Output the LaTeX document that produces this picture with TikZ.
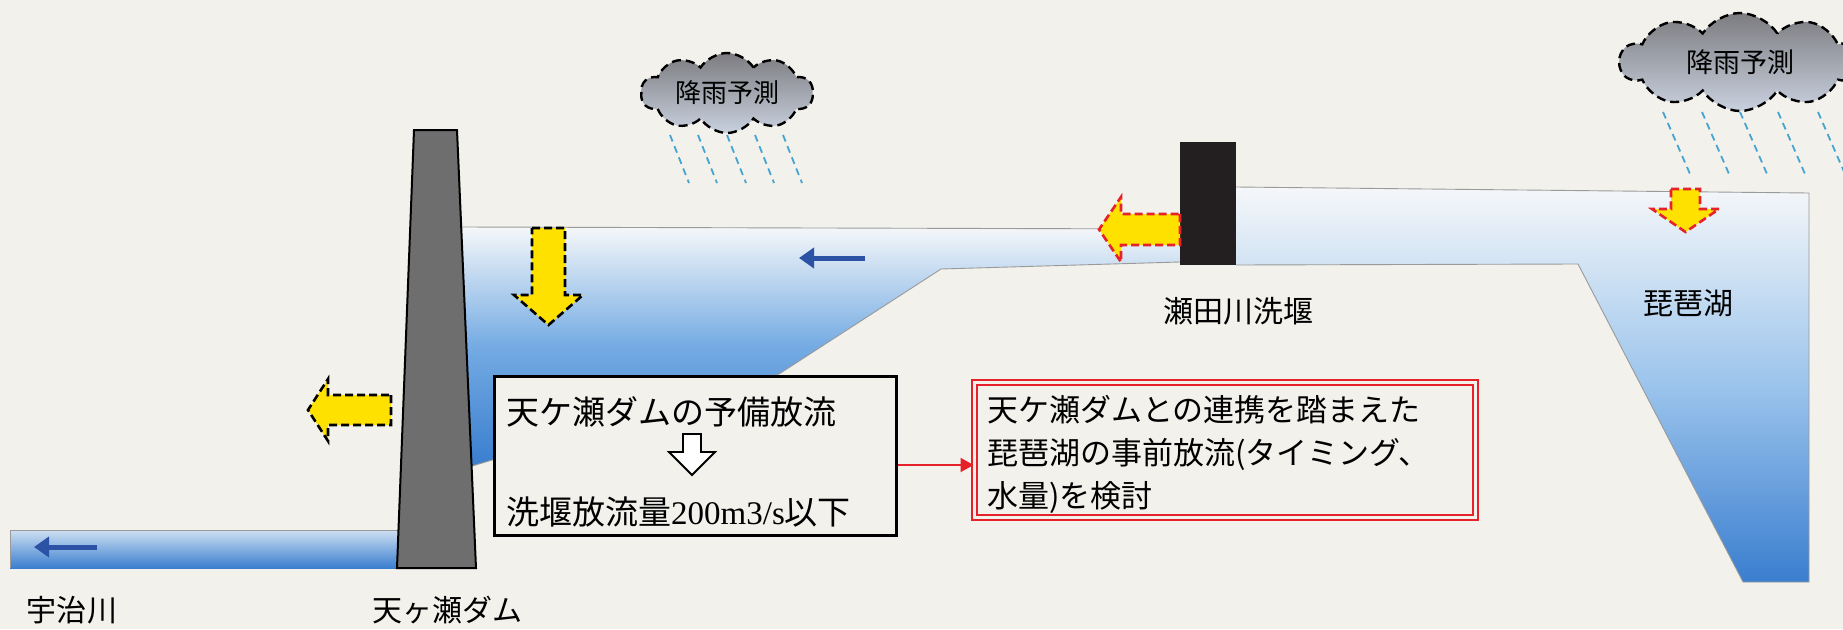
\documentclass[tikz,border=0pt]{standalone}
\usepackage{fontspec}
\setmainfont{Liberation Serif}
\newfontfamily\jp{Noto Sans CJK JP}
\usetikzlibrary{shapes.symbols,arrows.meta}

\definecolor{paper}{HTML}{F2F1EC}
\definecolor{waterlight}{HTML}{F5F7F9}
\definecolor{watermid}{HTML}{74ABE3}
\definecolor{lakemid}{HTML}{9CC4EC}
\definecolor{waterdeep}{HTML}{3A7ECF}
\definecolor{damgray}{HTML}{6E6E6E}
\definecolor{weirblack}{HTML}{231F20}
\definecolor{flowyellow}{HTML}{FFE100}
\definecolor{alertred}{HTML}{E52229}
\definecolor{flowblue}{HTML}{2C52A6}
\definecolor{rainblue}{HTML}{45A5D0}
\definecolor{cloudtop}{HTML}{7C7C80}
\definecolor{cloudbottom}{HTML}{C9D1DF}
\definecolor{shoreline}{HTML}{9A9A9A}

\begin{document}
\begin{tikzpicture}[x=1pt,y=-1pt,
  shore/.style={draw=shoreline, line width=0.9pt},
  water/.style={top color=waterlight, bottom color=waterdeep, middle color=watermid},
  lakewater/.style={top color=waterlight, bottom color=waterdeep, middle color=lakemid},
  bigarrow/.style={fill=flowyellow, line width=2.6pt, dash pattern=on 8pt off 4pt, line join=miter},
  blackedge/.style={bigarrow, draw=black},
  rededge/.style={bigarrow, draw=alertred},
  placename/.style={font=\jp\fontsize{30pt}{30pt}\selectfont, inner sep=0pt},
  boxtext/.style={font=\jp\fontsize{33pt}{33pt}\selectfont, inner sep=0pt, anchor=west},
  raindrop/.style={draw=rainblue, line width=1.8pt, dash pattern=on 7pt off 5pt},
  raincloud/.style={cloud, cloud puffs=10, cloud puff arc=115, cloud ignores aspect,
    draw=black, line width=2.4pt, dash pattern=on 9pt off 5pt,
    top color=cloudtop, bottom color=cloudbottom, inner sep=0pt,
    font=\jp\fontsize{26pt}{26pt}\selectfont},
  flowarrow/.style={draw=flowblue, line width=5pt, -{Triangle[length=15pt,width=20pt]}},
]
% page and clipping frame
\fill[paper] (0,0) rectangle (1843,629);
\useasboundingbox (0,0) rectangle (1843,629);
\clip (0,0) rectangle (1843,629);

% reservoir and Seta river
\shade[water] (461,227) -- (1180,229) -- (1180,262) -- (941,269) -- (779,374) -- (600,428) -- (472,466) -- cycle;
\draw[shore] (461,227) -- (1180,229);
\draw[shore] (1180,262) -- (941,269) -- (779,374) -- (600,428) -- (472,466);

% Lake Biwa
\shade[lakewater] (1236,187) -- (1809,193) -- (1809,582) -- (1743,582) -- (1578,264) -- (1236,265) -- cycle;
\draw[shore] (1236,187) -- (1809,193) -- (1809,582) -- (1743,582) -- (1578,264) -- (1236,265);

% Uji river
\shade[top color=waterlight!70!watermid, bottom color=waterdeep] (10,530) rectangle (400,568);
\draw[shore] (400,530) -- (10,530) -- (10,568);

% Amagase dam and Seta weir
\draw[fill=damgray, line width=2pt] (414,130) -- (457,130) -- (476,568) -- (397,568) -- cycle;
\fill[weirblack] (1180,142) rectangle (1236,265);

% flow directions
\coordinate (ujiFrom) at (97,547);
\coordinate (ujiTo) at (34,547);
\coordinate (resFrom) at (865,258);
\coordinate (resTo) at (799,258);
\draw[flowarrow] (ujiFrom) -- (ujiTo);
\draw[flowarrow] (resFrom) -- (resTo);

% release arrows
\draw[blackedge] (532,228) -- (565,228) -- (565,295) -- (583,295) -- (548.5,325) -- (514,295) -- (532,295) -- cycle;
\draw[blackedge] (391,395) -- (391,425) -- (328,425) -- (328,441) -- (308,410) -- (328,379) -- (328,395) -- cycle;
\draw[rededge] (1180,214) -- (1180,245) -- (1121,245) -- (1121,262) -- (1099,229.5) -- (1121,197) -- (1121,214) -- cycle;
\draw[rededge] (1671,189) -- (1700,189) -- (1700,209) -- (1719,209) -- (1685.5,232) -- (1652,209) -- (1671,209) -- cycle;

% pre-release box
\node[draw=black, line width=3.5pt, fill=paper, minimum width=402pt, minimum height=159pt, inner sep=0pt] (plan) at (695.5,456) {};
\node[boxtext] (planA) at (506,412) {天ケ瀬ダムの予備放流};
\node[boxtext] (planB) at (506,512) {洗堰放流量{\rmfamily 200m3/s}以下};
\draw[fill=white, line width=1.8pt, line join=miter] (683,434) -- (701,434) -- (701,452) -- (715,452) -- (692,475) -- (669,452) -- (683,452) -- cycle;

% study box
\node[draw=alertred, double=paper, double distance=2.5pt, line width=2pt, fill=paper,
      minimum width=501pt, minimum height=135pt, inner sep=0pt] (review) at (1225,450) {};
\node[anchor=west, align=left, inner sep=0pt, font=\jp\fontsize{31pt}{43pt}\selectfont] (reviewText) at (987,454)
  {天ケ瀬ダムとの連携を踏まえた\\琵琶湖の事前放流(タイミング、\\水量)を検討};
\coordinate (linkY) at (0,465);
\draw[alertred, line width=2pt, -{Triangle[length=13pt,width=14pt]}] (plan.east |- linkY) -- (review.west |- linkY);

% rain clouds
\node[raincloud, minimum width=172pt, minimum height=80pt] (cloudA) at (727,93) {降雨予測};
\node[raincloud, minimum width=240pt, minimum height=98pt, font=\jp\fontsize{27pt}{27pt}\selectfont] (cloudB) at (1740,62) {降雨予測};
\foreach \x in {670,698,727,755,783} \draw[raindrop] (\x,135) -- ++(19,48);
\foreach \x in {1663,1702,1740,1778,1818} \draw[raindrop] (\x,112) -- ++(27,62);

% place names
\node[placename] (ujiLabel) at (72,610) {宇治川};
\node[placename] (damLabel) at (447,610) {天ヶ瀬ダム};
\node[placename] (weirLabel) at (1238,311) {瀬田川洗堰};
\node[placename] (lakeLabel) at (1688,303) {琵琶湖};
\end{tikzpicture}
\end{document}
